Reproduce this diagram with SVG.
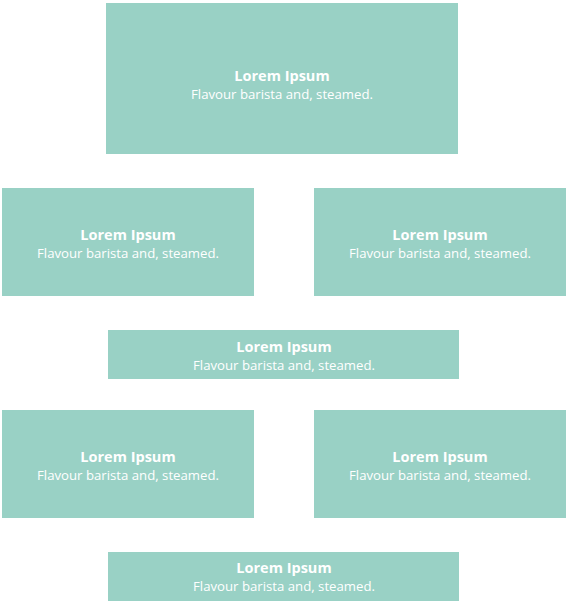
<svg xmlns="http://www.w3.org/2000/svg" width="571" height="604" viewBox="0 0 571 604">
<style>
.box{fill:#99d1c5}
.t{font-family:"Open Sans","Liberation Sans",sans-serif;fill:#fff;text-anchor:middle}
.h{font-size:14.5px;font-weight:bold}
.s{font-size:13.2px}
</style>
<rect width="571" height="604" fill="#fff"/>
<g id="n1"><rect class="box" x="106" y="3" width="352" height="151"/><text class="t h" x="282" y="81">Lorem Ipsum</text><text class="t s" x="282" y="98.5">Flavour barista and, steamed.</text></g>
<g id="n2"><rect class="box" x="2" y="188" width="252" height="108"/><text class="t h" x="128" y="240">Lorem Ipsum</text><text class="t s" x="128" y="257.5">Flavour barista and, steamed.</text></g>
<g id="n3"><rect class="box" x="314" y="188" width="252" height="108"/><text class="t h" x="440" y="240">Lorem Ipsum</text><text class="t s" x="440" y="257.5">Flavour barista and, steamed.</text></g>
<g id="n4"><rect class="box" x="108" y="330" width="351" height="49"/><text class="t h" x="284" y="352">Lorem Ipsum</text><text class="t s" x="284" y="369.5">Flavour barista and, steamed.</text></g>
<g id="n5"><rect class="box" x="2" y="410" width="252" height="108"/><text class="t h" x="128" y="462">Lorem Ipsum</text><text class="t s" x="128" y="479.5">Flavour barista and, steamed.</text></g>
<g id="n6"><rect class="box" x="314" y="410" width="252" height="108"/><text class="t h" x="440" y="462">Lorem Ipsum</text><text class="t s" x="440" y="479.5">Flavour barista and, steamed.</text></g>
<g id="n7"><rect class="box" x="108" y="552" width="351" height="49"/><text class="t h" x="284" y="573">Lorem Ipsum</text><text class="t s" x="284" y="590.5">Flavour barista and, steamed.</text></g>
<g id="connectors"></g>
</svg>
